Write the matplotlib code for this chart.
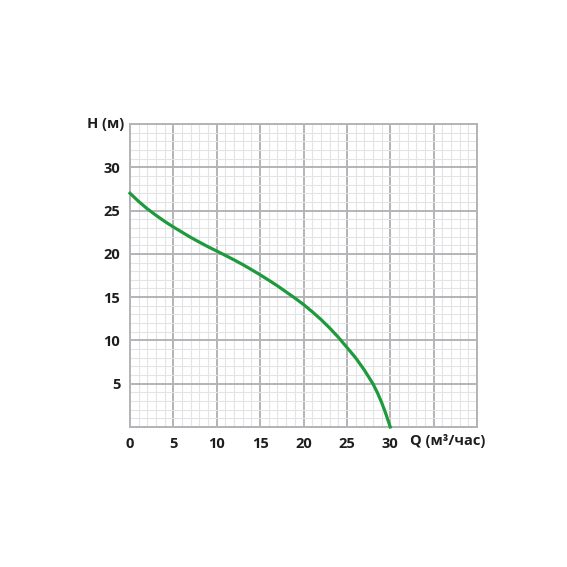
import matplotlib
matplotlib.use("Agg")
import matplotlib.pyplot as plt
from matplotlib.ticker import MultipleLocator

# pump curve: flow Q (m3/h) vs head H (m)
flow = [0, 1, 2, 3, 4, 5, 6, 7, 8, 9, 10, 11, 12, 13, 14, 15, 16, 17, 18, 19,
        20, 21, 22, 23, 24, 25, 26, 27, 28, 28.5, 29, 29.5, 30]
head = [27.0, 26.05, 25.2, 24.45, 23.75, 23.1, 22.5, 21.9, 21.35, 20.82, 20.32,
        19.82, 19.3, 18.76, 18.18, 17.58, 16.95, 16.3, 15.6, 14.9, 14.15, 13.32, 12.43,
        11.45, 10.38, 9.2, 8.0, 6.6, 5.0, 4.0, 2.85, 1.5, 0.0]

x_ticks = [0, 5, 10, 15, 20, 25, 30]
y_ticks = [5, 10, 15, 20, 25, 30]

FONT = "Open Sans"
TXT = "#1e1e1e"
MAJOR = "#b4b4b8"
MINOR = "#e4e4e6"
GREEN = "#1d9a3c"

fig = plt.figure(figsize=(5.67, 5.67), dpi=100)
ax = fig.add_axes([130 / 567, 140 / 567, 347 / 567, 303 / 567])

ax.set_xlim(0, 40)
ax.set_ylim(0, 35)

ax.xaxis.set_minor_locator(MultipleLocator(1))
ax.yaxis.set_minor_locator(MultipleLocator(1))
ax.grid(which="minor", color=MINOR, linewidth=0.8, zorder=0)
ax.grid(which="major", color=MAJOR, linewidth=1.4, zorder=1)
ax.set_axisbelow(True)

for s in ax.spines.values():
    s.set_color(MAJOR)
    s.set_linewidth(1.4)

ax.plot(flow, head, color=GREEN, linewidth=2.3, zorder=3, clip_on=False)

ax.tick_params(which="both", length=0)
ax.set_xticks(range(0, 41, 5))
ax.set_xticklabels([str(v) if v in x_ticks else "" for v in range(0, 41, 5)],
                   fontfamily=FONT, fontweight="bold", fontsize=10.5, color=TXT)
ax.set_yticks(range(0, 36, 5))
ax.set_yticklabels([str(v) if v in y_ticks else "" for v in range(0, 36, 5)],
                   fontfamily=FONT, fontweight="bold", fontsize=10.5, color=TXT)
ax.tick_params(axis="x", pad=7)
ax.tick_params(axis="y", pad=7)

fig.text(87 / 567, 1 - 124 / 567, "H (м)", fontfamily=FONT, fontweight="bold",
         fontsize=10.5, color=TXT, ha="left", va="center")
fig.text(410 / 567, 1 - 441 / 567, "Q (м³/час)", fontfamily=FONT, fontweight="bold",
         fontsize=10.5, color=TXT, ha="left", va="center")

fig.savefig("out.png", dpi=100, facecolor="white")
